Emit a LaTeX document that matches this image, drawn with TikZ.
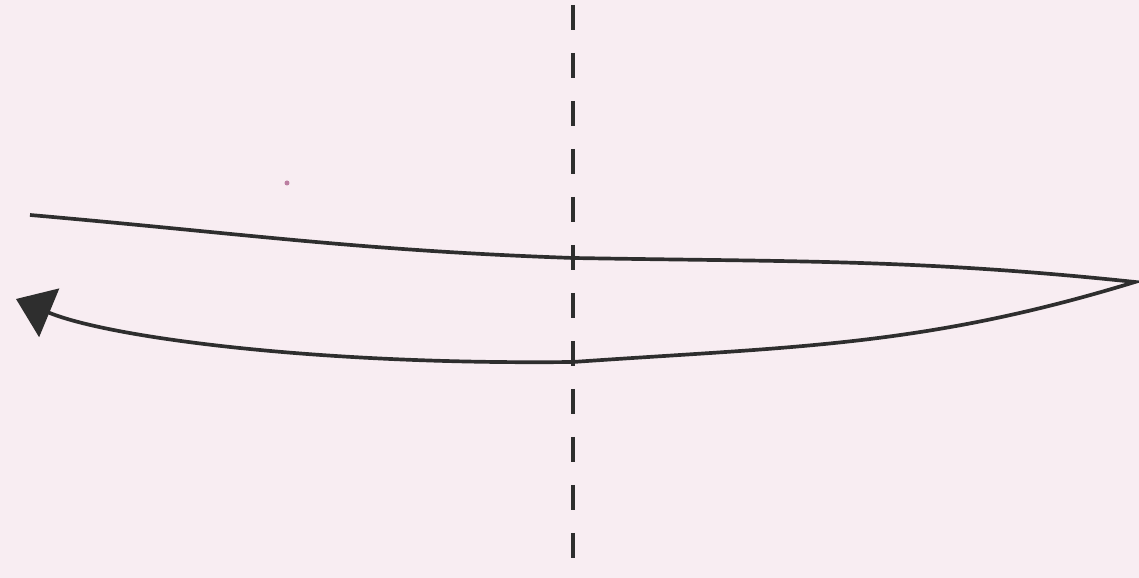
\documentclass[tikz,border=0pt]{standalone}
\usepackage{xcolor}
\usepackage{tikz}
\usetikzlibrary{arrows.meta, calc}
\definecolor{C_PAPER}{HTML}{F8EDF2}
\definecolor{C_INK}  {HTML}{2E2E2E}
\definecolor{C_SPECK}{HTML}{A0487A}
\tikzset{
  %% -- paper background --
  SK/paper/.style={fill=C_PAPER, draw=none},
  %% -- vertical dashed axis --
  SK/axis/.style={draw=C_INK, line width=1.3pt, dash pattern=on 0.25cm off 0.23cm},
  %% -- looping arrow --
  SK/loop/.style={draw=C_INK, line width=1.05pt,
    -{Triangle[length=0.36cm, width=0.52cm]}},
}
\begin{document}
\begin{tikzpicture}[x=1cm, y=1cm]
%% ── Paper ────────────────────────────────────────────────────
\fill[SK/paper] (0,0) rectangle (11.39,5.78);
\useasboundingbox (0,0) rectangle (11.39,5.78);
\fill[C_SPECK!70] (2.87,3.95) circle (0.025);

%% ── Axis end points ──────────────────────────────────────────
\coordinate (axTop) at (5.73,5.73);
\coordinate (axBot) at (5.73,0.10);

%% ── Loop way points ──────────────────────────────────────────
\coordinate (start) at (0.30,3.63);
\coordinate (upMid) at (5.73,3.20);
\coordinate (tip)   at (11.35,2.96);
\coordinate (loMid) at (5.73,2.16);
\coordinate (end)   at (0.16,2.79);

%% ── Dashed axis ──────────────────────────────────────────────
\draw[SK/axis] (axTop) -- (axBot);

%% ── Loop going right and back left ───────────────────────────
\draw[SK/loop] (start) to[out=-5, in=178] (upMid)
  to[out=-1, in=174] (tip)
  to[out=197, in=4] (loMid)
  .. controls (3.2,2.13) and (1.1,2.40) .. (end);

\end{tikzpicture}
\end{document}
